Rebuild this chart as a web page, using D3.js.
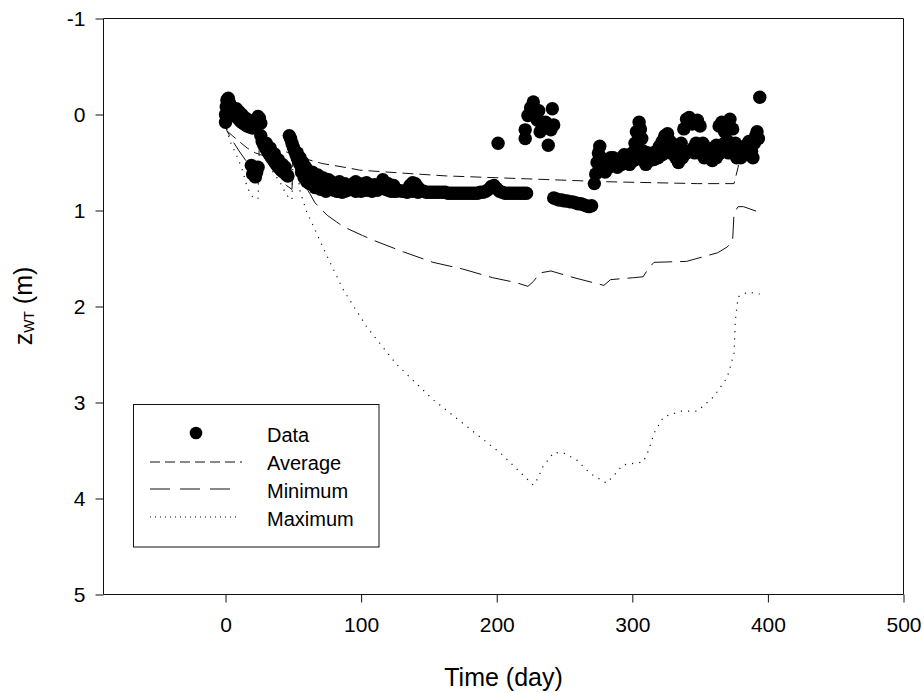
<!DOCTYPE html>
<html>
<head>
<meta charset="utf-8">
<script src="https://cdn.jsdelivr.net/npm/d3@7"></script>
<style>
  html, body { margin: 0; padding: 0; background: #fff; }
  svg { display: block; font-family: "Liberation Sans", Arial, sans-serif; }
</style>
</head>
<body>
<svg id="chart" width="924" height="693"></svg>
<script>
// ---- Data ----
const xTicks = [0, 100, 200, 300, 400, 500];
const yTicks = [-1, 0, 1, 2, 3, 4, 5];

// Observed water-table depth (Data): [day, zWT]
const dataPoints = [
  [0,0.08],[0,0.0],[0.5,0.02],[0.5,-0.08],[1,-0.15],[2,-0.17],[3,-0.12],[4,-0.08],[5,-0.05],[6,-0.02],[7,0.0],
  [8,0.02],[9,0.04],[10,0.05],[11,0.07],[12,0.08],[13,0.09],[14,0.10],[15,0.11],[16,0.12],[17,0.12],
  [18,0.13],[19,0.13],[20,0.14],[21,0.13],[22,0.12],[23,0.06],[24,0.02],[25,0.04],[26,0.09],
  [8,-0.06],[10,-0.03],[12,0.0],[14,0.03],[16,0.05],[18,0.07],[20,0.08],
  [19,0.53],[20,0.62],[21,0.57],[22,0.65],[23,0.60],[24,0.55],
  [26,0.22],[27,0.28],[28,0.31],[29,0.33],[30,0.36],[31,0.38],[32,0.41],[33,0.43],[34,0.45],[35,0.47],
  [36,0.49],[37,0.51],[38,0.53],[39,0.55],[40,0.56],[41,0.58],[42,0.59],[43,0.60],[44,0.61],[45,0.63],[46,0.64],
  [30,0.30],[33,0.35],[36,0.41],[39,0.47],[42,0.52],[44,0.55],
  [47,0.22],[48,0.25],[49,0.30],[50,0.34],[51,0.38],[52,0.42],[53,0.46],[54,0.49],[55,0.52],[56,0.55],
  [57,0.57],[58,0.60],[59,0.62],[60,0.64],[62,0.66],[64,0.68],[66,0.70],[68,0.71],[70,0.72],[72,0.73],[74,0.75],
  [53,0.40],[55,0.45],[57,0.50],[59,0.55],[56,0.60],[58,0.66],[60,0.70],[62,0.72],[64,0.60],[68,0.63],
  [72,0.66],[66,0.76],[70,0.78],[74,0.80],
  [76,0.76],[78,0.78],[80,0.79],[82,0.80],[84,0.80],[86,0.81],[88,0.80],[90,0.79],[92,0.76],[94,0.72],
  [96,0.70],[98,0.72],[100,0.74],[102,0.72],[104,0.71],[106,0.73],[108,0.74],[110,0.73],[112,0.75],[114,0.74],
  [116,0.76],[118,0.78],[120,0.79],[122,0.80],[124,0.80],[126,0.80],[128,0.79],[130,0.80],[132,0.80],[134,0.78],
  [136,0.74],[138,0.71],[140,0.72],[142,0.76],[144,0.79],[146,0.80],[148,0.81],[150,0.81],[152,0.81],[154,0.81],
  [76,0.68],[78,0.70],[80,0.72],[84,0.70],[88,0.72],[96,0.80],[100,0.80],[104,0.79],[108,0.80],[112,0.79],
  [116,0.68],[120,0.72],[124,0.74],[134,0.81],[138,0.80],[142,0.81],
  [156,0.81],[158,0.81],[160,0.81],[162,0.81],[164,0.82],[166,0.82],[168,0.82],[170,0.82],[172,0.82],[174,0.82],
  [176,0.82],[178,0.82],[180,0.82],[182,0.82],[184,0.82],[186,0.82],[188,0.81],[190,0.81],[192,0.80],[194,0.78],
  [196,0.75],[198,0.74],[200,0.77],[202,0.80],[204,0.81],[206,0.82],[208,0.82],[210,0.82],[212,0.82],[214,0.82],
  [216,0.82],[218,0.82],[220,0.82],[222,0.82],
  [201,0.30],
  [221,0.16],[221,0.25],[223,0.01],[225,-0.07],[227,-0.13],[230,0.06],[231,-0.04],[232,0.18],[236,0.08],
  [238,0.32],[240,0.16],[241,-0.06],[242,0.11],
  [242,0.87],[244,0.88],[246,0.89],[248,0.89],[250,0.90],[252,0.90],[254,0.91],[256,0.91],[258,0.92],[260,0.93],
  [262,0.93],[264,0.94],[266,0.95],[268,0.96],[270,0.95],
  [272,0.72],[273,0.62],[274,0.50],[275,0.40],[276,0.33],[277,0.45],[278,0.55],[280,0.60],[282,0.50],[284,0.45],
  [286,0.52],[288,0.48],[290,0.53],[292,0.45],[294,0.42],[296,0.48],[298,0.43],[300,0.40],[302,0.30],[303,0.18],
  [305,0.08],[306,0.15],[307,0.25],[308,0.38],[310,0.44],[312,0.40],[314,0.42],[316,0.47],[318,0.38],[320,0.33],
  [322,0.28],[324,0.22],[326,0.20],[328,0.28],[330,0.38],[332,0.45],[334,0.42],[336,0.30],[338,0.15],[340,0.05],
  [342,0.03],[344,0.10],[345,0.35],[346,0.40],[348,0.06],[350,0.12],[352,0.30],[354,0.42],[356,0.45],[358,0.43],
  [360,0.38],[362,0.32],[364,0.12],[366,0.08],[368,0.18],[370,0.27],[372,0.05],[374,0.15],[376,0.30],[378,0.42],
  [380,0.45],[382,0.40],[384,0.32],[386,0.28],[388,0.38],[390,0.30],[391,0.22],[392,0.18],
  [280,0.50],[283,0.55],[286,0.45],[289,0.55],[292,0.52],[295,0.50],[298,0.52],[301,0.48],[304,0.45],[307,0.47],
  [310,0.52],[313,0.48],[316,0.40],[319,0.45],[322,0.42],[325,0.35],[328,0.40],[331,0.32],[334,0.50],[337,0.45],
  [340,0.40],[343,0.38],[347,0.30],[350,0.40],[353,0.45],[356,0.35],[359,0.48],[362,0.45],[365,0.40],[368,0.30],
  [371,0.40],[374,0.38],[377,0.45],[381,0.35],[385,0.42],[389,0.45],[393,0.25],
  [394,-0.18]
];

// Model: Average
const averageLine = [
  [0,0.0],[1,0.17],[5,0.22],[10,0.28],[16,0.35],[22,0.40],[28,0.43],[33,0.40],[38,0.37],[45,0.39],[51,0.42],
  [61,0.47],[71,0.51],[92,0.56],[99,0.58],[130,0.61],[163,0.64],[222,0.67],[280,0.70],[348,0.72],[375,0.72],
  [378,0.55],[380,0.36],[395,0.33]
];

// Model: Minimum
const minimumLine = [
  [0,0.0],[1,0.17],[5,0.27],[10,0.38],[15,0.48],[20,0.58],[24,0.62],[25,0.30],[30,0.42],[35,0.55],[40,0.65],
  [45,0.74],[49,0.78],[50,0.35],[53,0.50],[57,0.70],[62,0.82],[66,0.92],[75,1.05],[82,1.12],[87,1.17],
  [101,1.26],[109,1.31],[131,1.43],[153,1.54],[175,1.61],[197,1.70],[214,1.75],[223,1.79],[227,1.74],
  [232,1.65],[240,1.63],[257,1.70],[279,1.78],[284,1.72],[301,1.70],[308,1.69],[312,1.60],[316,1.54],
  [340,1.53],[363,1.44],[370,1.38],[374,1.31],[375,1.03],[378,0.96],[382,0.96],[396,1.03]
];

// Model: Maximum
const maximumLine = [
  [0,0.0],[1,0.17],[4,0.30],[8,0.42],[12,0.56],[16,0.76],[20,0.86],[24,0.88],[25,0.30],[30,0.45],[35,0.60],
  [40,0.70],[45,0.84],[49,0.89],[50,0.35],[53,0.60],[55,0.80],[57,0.89],[60,1.02],[65,1.17],[75,1.48],
  [87,1.83],[104,2.21],[126,2.60],[153,2.97],[178,3.25],[203,3.53],[227,3.86],[230,3.80],[234,3.67],
  [242,3.52],[250,3.53],[259,3.60],[269,3.74],[281,3.84],[287,3.75],[293,3.65],[308,3.62],[312,3.50],
  [316,3.32],[323,3.15],[336,3.09],[348,3.09],[360,2.94],[370,2.74],[375,2.49],[376,2.14],[378,1.90],
  [385,1.85],[394,1.87]
];

const legendLabels = ["Data", "Average", "Minimum", "Maximum"];

// ---- Drawing ----
const svg = d3.select("#chart");
const plotLeft = 103.5, plotRight = 903.5, plotTop = 18.5, plotBottom = 594.5;

const x = d3.scaleLinear().domain([-90, 500]).range([plotLeft, plotRight]);
const y = d3.scaleLinear().domain([-1, 5]).range([plotTop, plotBottom]);

const ink = "#111";

// frame top & right
svg.append("line").attr("x1", plotLeft).attr("x2", plotRight).attr("y1", plotTop).attr("y2", plotTop)
  .attr("stroke", ink).attr("stroke-width", 1);
svg.append("line").attr("x1", plotRight).attr("x2", plotRight).attr("y1", plotTop).attr("y2", plotBottom)
  .attr("stroke", ink).attr("stroke-width", 1);

// axes
const fmt = d => String(d);
const xAxis = d3.axisBottom(x).tickValues(xTicks).tickSize(8).tickPadding(10).tickFormat(fmt);
const gx = svg.append("g").attr("transform", `translate(0,${plotBottom})`).call(xAxis);
const yAxis = d3.axisLeft(y).tickValues(yTicks).tickSize(8).tickPadding(10).tickFormat(fmt);
const gy = svg.append("g").attr("transform", `translate(${plotLeft},0)`).call(yAxis);
[gx, gy].forEach(g => {
  g.select(".domain").attr("stroke", ink).attr("stroke-width", 1);
  g.selectAll(".tick line").attr("stroke", ink).attr("stroke-width", 1);
  g.selectAll(".tick text").attr("fill", "#000").style("font-size", "21px")
   .style("font-family", '"Liberation Sans", Arial, sans-serif');
});
gx.select(".domain").attr("d", `M${plotLeft},0H${plotRight}`);
gy.select(".domain").attr("d", `M0,${plotTop}V${plotBottom}`);
gx.selectAll(".tick text").attr("dy", "0.95em");
gy.selectAll(".tick text").attr("dy", "0.35em");

// lines
const lineGen = d3.line().x(d => x(d[0])).y(d => y(d[1]));
const seriesStyles = [
  { data: averageLine, dash: "11,6", width: 1 },
  { data: minimumLine, dash: "22,8", width: 1 },
  { data: maximumLine, dash: "1.2,6", width: 1.2 }
];
seriesStyles.forEach(s => {
  svg.append("path").datum(s.data).attr("d", lineGen)
    .attr("fill", "none").attr("stroke", ink).attr("stroke-width", s.width)
    .attr("stroke-dasharray", s.dash);
});

// data points
svg.append("g").selectAll("circle").data(dataPoints).join("circle")
  .attr("cx", d => x(d[0])).attr("cy", d => y(d[1])).attr("r", 6.7).attr("fill", "#000");

// axis titles
svg.append("text").attr("x", (plotLeft + plotRight) / 2).attr("y", 686).attr("text-anchor", "middle")
  .style("font-size", "25px").attr("fill", "#000").text("Time (day)");

const yt = svg.append("text").attr("transform", "translate(32,306) rotate(-90)")
  .attr("text-anchor", "middle").style("font-size", "25px").attr("fill", "#000");
yt.append("tspan").text("z");
yt.append("tspan").style("font-size", "14px").attr("dy", "2").text("WT");
yt.append("tspan").attr("dy", "-2").text(" (m)");

// legend
const lg = svg.append("g");
lg.append("rect").attr("x", 133.5).attr("y", 404.5).attr("width", 245.5).attr("height", 142.5)
  .attr("fill", "#fff").attr("stroke", ink).attr("stroke-width", 1);
const rowBase = [442, 470, 498, 526];
lg.append("circle").attr("cx", 196).attr("cy", 433).attr("r", 6.3).attr("fill", "#000");
const legLines = [
  { y: 462, x2: 242, dash: "10,5", w: 1 },
  { y: 489, x2: 235, dash: "20,10", w: 1 },
  { y: 517, x2: 238, dash: "1,4", w: 1.2 }
];
legLines.forEach(l => {
  lg.append("line").attr("x1", 150).attr("x2", l.x2).attr("y1", l.y).attr("y2", l.y)
    .attr("stroke", ink).attr("stroke-width", l.w).attr("stroke-dasharray", l.dash);
});
legendLabels.forEach((t, i) => {
  lg.append("text").attr("x", 267).attr("y", rowBase[i]).style("font-size", "20px")
    .attr("fill", "#000").text(t);
});
</script>
</body>
</html>
